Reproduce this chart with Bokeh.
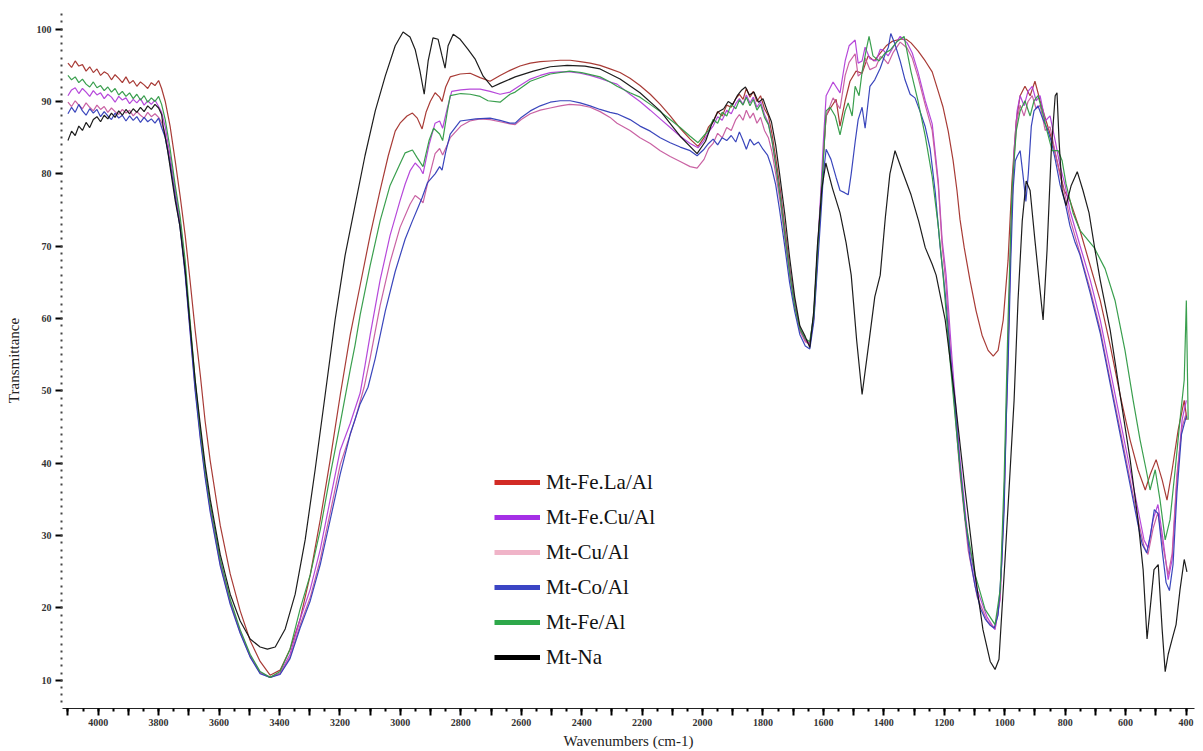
from bokeh.plotting import figure
from bokeh.models import Range1d, FixedTicker, Legend, LegendItem
from bokeh.embed import file_html
from bokeh.resources import INLINE

# FTIR spectra: (wavenumber cm-1, transmittance %)
mt_fe_la_al = [
    (4100, 95.3), (4088, 94.7), (4076, 95.6), (4064, 94.9), (4052, 95.1), (4040, 94.2), (4028, 94.8),
    (4016, 94.0), (4004, 94.5), (3992, 93.6), (3980, 94.1), (3968, 93.8), (3956, 93.0), (3944, 93.7),
    (3932, 93.2), (3920, 92.6), (3908, 93.4), (3896, 92.5), (3884, 92.9), (3872, 92.1), (3860, 92.7),
    (3848, 92.3), (3836, 91.8), (3824, 92.6), (3812, 92.2), (3800, 92.9), (3790, 91.8),
    (3778, 90.0), (3762, 86.6), (3745, 81.8), (3729, 77.0), (3712, 71.5), (3696, 65.3),
    (3679, 58.4), (3662, 52.2), (3646, 45.8), (3629, 40.3), (3596, 31.4), (3563, 24.7), (3530, 19.6),
    (3497, 15.5), (3464, 12.6), (3431, 10.7), (3398, 11.4), (3365, 14.3), (3332, 18.4), (3298, 24.6),
    (3265, 32.2), (3232, 40.5), (3199, 49.4), (3166, 57.7), (3133, 64.6), (3100, 71.5), (3067, 77.7),
    (3040, 82.5), (3017, 85.9), (3001, 87.0), (2978, 88.0), (2960, 88.4), (2944, 87.7), (2928, 86.2),
    (2915, 88.5), (2901, 90.0), (2885, 91.2), (2870, 90.6), (2862, 90.0), (2850, 92.0), (2835, 93.4),
    (2802, 93.8), (2769, 93.9), (2736, 93.3), (2703, 92.8), (2670, 93.6), (2637, 94.3), (2604, 94.9),
    (2570, 95.3), (2537, 95.5), (2504, 95.6), (2471, 95.7), (2438, 95.7), (2405, 95.5), (2372, 95.3),
    (2339, 95.0), (2306, 94.5), (2273, 94.0), (2240, 93.2), (2207, 92.2), (2173, 91.0), (2140, 89.6),
    (2107, 88.0), (2074, 86.3), (2041, 84.8), (2015, 83.8), (1995, 85.0), (1980, 86.5), (1965, 87.2),
    (1950, 88.6), (1935, 88.0), (1920, 89.5), (1905, 89.2), (1890, 90.4), (1878, 91.0), (1866, 90.3),
    (1855, 91.8), (1843, 90.6), (1832, 91.4), (1820, 90.0), (1808, 90.8), (1795, 89.0), (1782, 88.0),
    (1770, 85.5), (1757, 82.0), (1742, 77.5), (1726, 72.0), (1710, 66.5), (1694, 62.0), (1677, 58.5),
    (1660, 57.0), (1645, 56.5), (1632, 60.0), (1620, 68.5), (1608, 77.0), (1597, 84.6), (1591, 88.0),
    (1578, 89.0), (1558, 90.3), (1545, 86.6), (1528, 90.1), (1512, 92.8), (1492, 94.2), (1472, 93.9),
    (1452, 96.3), (1432, 95.6), (1412, 96.7), (1392, 97.7), (1373, 98.3), (1346, 98.6), (1326, 98.6),
    (1310, 98.1), (1287, 97.0), (1263, 95.6), (1240, 94.1), (1220, 91.4), (1204, 89.2), (1187, 85.9),
    (1171, 81.9), (1158, 77.7), (1148, 73.7), (1134, 69.8), (1115, 65.3), (1095, 61.1), (1075, 57.7),
    (1055, 55.6), (1038, 54.8), (1022, 55.6), (1005, 59.8), (989, 68.0), (976, 79.0), (962, 87.3),
    (949, 90.8), (933, 92.1), (916, 90.8), (900, 92.8), (883, 90.1), (863, 87.3), (843, 84.6),
    (823, 81.1), (803, 77.7), (784, 76.3), (751, 72.2), (717, 67.3), (684, 62.5), (651, 56.3),
    (618, 49.4), (585, 43.2), (559, 39.1), (535, 36.3), (519, 38.4), (499, 40.5), (479, 37.7),
    (463, 34.9), (446, 39.1), (426, 44.6), (406, 48.7), (397, 46.0),
]

mt_fe_cu_al = [
    (4100, 90.8), (4088, 91.6), (4076, 91.9), (4064, 91.1), (4052, 91.8), (4040, 91.3), (4028, 90.7),
    (4016, 91.5), (4004, 90.9), (3992, 91.2), (3980, 90.4), (3968, 91.0), (3956, 90.6), (3944, 89.9),
    (3932, 90.7), (3920, 90.2), (3908, 90.5), (3896, 89.7), (3884, 90.3), (3872, 89.8), (3860, 90.4),
    (3848, 89.5), (3836, 90.1), (3824, 89.6), (3812, 90.2), (3800, 89.3), (3790, 88.5),
    (3778, 86.5), (3762, 82.5), (3745, 77.8), (3729, 73.5), (3712, 67.0), (3696, 59.0),
    (3679, 50.8), (3662, 44.0), (3646, 38.6), (3629, 33.8), (3596, 26.3), (3563, 20.9), (3530, 16.8),
    (3497, 13.4), (3464, 11.1), (3431, 10.4), (3398, 11.0), (3365, 13.6), (3332, 18.4), (3298, 22.6),
    (3265, 28.1), (3232, 35.0), (3199, 41.8), (3166, 45.5), (3133, 49.7), (3117, 53.5), (3100, 57.7),
    (3067, 65.3), (3034, 71.5), (3001, 76.3), (2984, 78.6), (2968, 80.4), (2951, 81.5), (2935, 80.8),
    (2925, 80.0), (2905, 84.0), (2885, 87.0), (2870, 87.3), (2860, 86.3), (2845, 89.0), (2830, 91.4),
    (2800, 91.6), (2770, 91.7), (2736, 91.7), (2703, 91.4), (2670, 91.0), (2637, 91.3), (2604, 92.2),
    (2570, 93.1), (2537, 93.6), (2504, 94.0), (2471, 94.1), (2438, 94.1), (2405, 93.9), (2372, 93.6),
    (2339, 93.2), (2306, 92.7), (2283, 92.4), (2240, 91.0), (2207, 90.0), (2173, 88.8), (2140, 87.6),
    (2107, 86.4), (2074, 85.2), (2041, 84.2), (2015, 83.6), (1995, 84.6), (1980, 85.8), (1965, 86.6),
    (1950, 87.9), (1935, 87.4), (1920, 88.8), (1905, 88.3), (1890, 89.7), (1878, 90.4), (1866, 89.6),
    (1855, 90.9), (1843, 89.8), (1832, 90.6), (1820, 89.2), (1808, 90.0), (1795, 88.2), (1782, 87.0),
    (1770, 84.6), (1757, 81.0), (1742, 76.8), (1726, 71.2), (1710, 66.0), (1694, 61.8), (1677, 58.4),
    (1660, 57.0), (1645, 56.6), (1632, 60.4), (1620, 69.0), (1608, 78.0), (1600, 84.6), (1591, 90.8),
    (1568, 92.7), (1545, 91.2), (1528, 95.6), (1515, 97.7), (1495, 98.5), (1485, 95.3), (1472, 95.6),
    (1462, 97.5), (1446, 95.9), (1426, 95.6), (1412, 97.2), (1402, 97.1), (1386, 96.3), (1369, 97.5),
    (1346, 99.0), (1323, 98.1), (1306, 96.7), (1287, 94.1), (1263, 90.1), (1240, 86.9), (1220, 79.0),
    (1207, 70.8), (1194, 66.0), (1174, 54.2), (1148, 40.5), (1121, 29.4), (1091, 22.5), (1058, 18.7),
    (1032, 17.0), (1015, 21.2), (1002, 34.9), (989, 55.6), (979, 72.2), (969, 83.2), (959, 88.7),
    (949, 90.8), (936, 89.4), (923, 91.4), (909, 92.1), (896, 90.1), (883, 90.8), (866, 87.3),
    (850, 88.0), (833, 84.6), (817, 81.1), (800, 78.4), (784, 74.9), (751, 70.1), (717, 65.3),
    (684, 59.8), (651, 52.9), (618, 46.0), (585, 39.1), (559, 33.6), (539, 29.4), (526, 28.3),
    (509, 32.2), (493, 34.3), (476, 29.4), (459, 23.9), (446, 26.7), (430, 37.7), (413, 46.0),
    (399, 48.7),
]

mt_cu_al = [
    (4100, 89.9), (4088, 89.3), (4076, 90.1), (4064, 89.5), (4052, 89.0), (4040, 89.8), (4028, 89.2),
    (4016, 88.7), (4004, 89.5), (3992, 88.9), (3980, 89.3), (3968, 88.5), (3956, 89.1), (3944, 88.6),
    (3932, 88.2), (3920, 88.9), (3908, 88.4), (3896, 88.8), (3884, 88.0), (3872, 88.6), (3860, 88.1),
    (3848, 87.7), (3836, 88.5), (3824, 87.9), (3812, 88.3), (3800, 87.8), (3790, 87.1),
    (3778, 85.5), (3762, 81.8), (3745, 77.2), (3729, 73.0), (3712, 66.4), (3696, 58.6),
    (3679, 50.4), (3662, 43.7), (3646, 38.3), (3629, 33.5), (3596, 26.0), (3563, 20.7), (3530, 16.6),
    (3497, 13.3), (3464, 11.0), (3431, 10.4), (3398, 10.9), (3365, 13.2), (3332, 17.6), (3298, 21.5),
    (3265, 26.7), (3232, 33.2), (3199, 39.8), (3150, 46.0), (3120, 50.5), (3100, 54.5), (3067, 61.8),
    (3034, 67.8), (3001, 72.6), (2968, 75.8), (2951, 77.0), (2935, 76.5), (2925, 76.0), (2905, 79.5),
    (2885, 82.8), (2870, 83.5), (2860, 82.6), (2845, 84.0), (2835, 85.0), (2800, 86.6), (2770, 87.3),
    (2736, 87.6), (2703, 87.5), (2670, 87.2), (2637, 86.9), (2620, 86.8), (2600, 87.5), (2570, 88.3),
    (2537, 88.8), (2504, 89.1), (2471, 89.4), (2440, 89.6), (2405, 89.5), (2372, 89.2), (2339, 88.6),
    (2306, 87.8), (2283, 87.0), (2240, 86.0), (2207, 85.0), (2173, 84.2), (2140, 83.2), (2107, 82.4),
    (2074, 81.7), (2041, 81.0), (2018, 80.8), (1995, 82.0), (1980, 83.5), (1965, 84.2), (1950, 85.6),
    (1935, 85.0), (1920, 86.4), (1905, 86.0), (1890, 87.5), (1878, 88.2), (1866, 87.4), (1855, 88.8),
    (1843, 87.7), (1832, 88.4), (1820, 87.0), (1808, 87.8), (1795, 86.0), (1782, 85.0), (1770, 83.0),
    (1757, 79.8), (1742, 75.8), (1726, 70.6), (1710, 65.5), (1694, 61.5), (1677, 58.2), (1660, 56.8),
    (1645, 56.4), (1632, 60.0), (1620, 68.0), (1608, 76.0), (1600, 82.5), (1591, 88.0), (1568, 90.5),
    (1545, 89.0), (1528, 93.6), (1515, 95.4), (1495, 96.6), (1485, 93.5), (1472, 94.0), (1462, 96.0),
    (1446, 94.4), (1426, 94.8), (1412, 96.2), (1402, 96.0), (1386, 95.2), (1369, 96.8), (1346, 98.2),
    (1323, 97.4), (1306, 96.0), (1287, 93.4), (1263, 89.5), (1240, 86.0), (1220, 78.5), (1207, 70.0),
    (1194, 64.5), (1174, 52.0), (1148, 38.5), (1121, 28.0), (1091, 21.5), (1058, 18.2), (1032, 17.2),
    (1015, 21.5), (1002, 35.5), (989, 56.0), (979, 72.5), (969, 82.5), (959, 87.5), (949, 89.5),
    (936, 88.0), (923, 90.0), (909, 90.8), (896, 89.0), (883, 89.5), (866, 86.0), (850, 86.5),
    (833, 83.0), (817, 79.8), (800, 77.0), (784, 73.8), (751, 69.0), (717, 64.0), (684, 58.5),
    (651, 51.5), (618, 44.6), (585, 37.7), (559, 32.2), (539, 28.5), (526, 27.4), (509, 31.0),
    (493, 33.2), (476, 28.5), (459, 24.6), (446, 27.5), (430, 38.5), (413, 45.0), (399, 47.0),
]

mt_co_al = [
    (4100, 88.3), (4088, 89.2), (4076, 88.5), (4064, 89.6), (4052, 88.7), (4040, 88.1), (4028, 89.0),
    (4016, 88.4), (4004, 88.9), (3992, 87.9), (3980, 88.6), (3968, 88.0), (3956, 87.5), (3944, 88.4),
    (3932, 87.7), (3920, 88.1), (3908, 87.3), (3896, 88.0), (3884, 87.4), (3872, 87.9), (3860, 87.1),
    (3848, 87.8), (3836, 87.2), (3824, 87.6), (3812, 87.0), (3800, 87.7), (3790, 86.4),
    (3778, 85.0), (3762, 81.4), (3745, 76.8), (3729, 72.6), (3712, 66.0), (3696, 58.2),
    (3679, 50.0), (3662, 43.4), (3646, 38.0), (3629, 33.2), (3596, 25.8), (3563, 20.5), (3530, 16.5),
    (3497, 13.2), (3464, 10.9), (3431, 10.4), (3398, 10.8), (3365, 13.0), (3332, 17.2), (3298, 21.0),
    (3265, 26.0), (3232, 32.2), (3199, 38.5), (3166, 44.0), (3133, 48.2), (3107, 50.5), (3083, 54.5),
    (3050, 61.0), (3017, 66.5), (2984, 71.0), (2960, 73.5), (2940, 75.5), (2928, 76.7), (2910, 78.8),
    (2885, 80.0), (2870, 81.0), (2862, 80.5), (2850, 83.0), (2835, 85.5), (2802, 87.3), (2750, 87.6),
    (2703, 87.7), (2670, 87.4), (2637, 87.0), (2620, 87.0), (2600, 87.8), (2570, 88.7), (2537, 89.4),
    (2504, 89.9), (2471, 90.1), (2438, 90.1), (2405, 89.8), (2372, 89.4), (2339, 88.9), (2306, 88.5),
    (2283, 88.3), (2240, 87.5), (2207, 86.6), (2173, 85.9), (2140, 85.0), (2107, 84.3), (2074, 83.7),
    (2041, 83.2), (2018, 82.5), (1995, 83.4), (1980, 84.2), (1965, 84.8), (1950, 84.0), (1935, 85.0),
    (1920, 84.6), (1905, 85.3), (1890, 84.4), (1878, 85.8), (1866, 84.6), (1855, 83.4), (1843, 84.8),
    (1830, 84.0), (1815, 84.4), (1800, 83.4), (1785, 82.6), (1772, 81.0), (1758, 78.5), (1745, 75.0),
    (1728, 70.0), (1712, 65.0), (1695, 61.0), (1678, 57.8), (1660, 56.2), (1645, 55.8), (1632, 59.5),
    (1620, 67.0), (1608, 74.5), (1600, 80.0), (1591, 83.4), (1575, 82.0), (1558, 79.5), (1545, 77.7),
    (1530, 77.4), (1518, 77.1), (1508, 80.0), (1495, 84.4), (1485, 87.5), (1472, 89.2), (1462, 86.3),
    (1446, 92.1), (1430, 93.0), (1412, 94.6), (1396, 96.5), (1385, 97.5), (1377, 99.4), (1363, 97.9),
    (1346, 95.6), (1330, 93.0), (1313, 91.0), (1297, 90.5), (1280, 88.6), (1263, 86.5), (1247, 83.5),
    (1230, 77.5), (1214, 70.0), (1197, 63.5), (1181, 55.5), (1164, 47.5), (1148, 39.5), (1131, 32.5),
    (1115, 27.0), (1098, 23.0), (1081, 20.0), (1065, 18.5), (1048, 17.6), (1035, 17.2), (1022, 19.0),
    (1010, 26.0), (1002, 33.5), (995, 46.0), (989, 53.5), (980, 68.0), (972, 78.0), (965, 81.8),
    (958, 82.5), (949, 83.2), (940, 80.0), (930, 76.2), (922, 80.0), (912, 86.6), (903, 88.7),
    (890, 89.4), (876, 87.8), (860, 86.3), (846, 84.5), (833, 82.0), (817, 78.5), (800, 76.0),
    (784, 72.8), (767, 70.5), (751, 68.8), (717, 63.5), (684, 58.0), (651, 51.0), (618, 44.0),
    (585, 37.0), (559, 31.5), (545, 28.8), (530, 27.6), (518, 30.0), (505, 33.6), (492, 33.0),
    (479, 28.0), (466, 23.5), (455, 22.4), (443, 26.0), (430, 36.0), (415, 44.0), (399, 46.5),
]

mt_fe_al = [
    (4100, 93.6), (4088, 93.0), (4076, 93.4), (4064, 92.6), (4052, 93.1), (4040, 92.4), (4028, 92.0),
    (4016, 92.7), (4004, 91.9), (3992, 92.2), (3980, 91.5), (3968, 92.0), (3956, 91.3), (3944, 91.8),
    (3932, 90.9), (3920, 91.4), (3908, 90.7), (3896, 91.2), (3884, 90.4), (3872, 91.0), (3860, 90.2),
    (3848, 90.8), (3836, 89.9), (3824, 90.5), (3812, 90.0), (3800, 90.7), (3790, 89.6),
    (3778, 87.5), (3762, 83.5), (3745, 78.4), (3729, 74.2), (3712, 68.0), (3696, 59.8),
    (3679, 51.5), (3662, 44.6), (3646, 39.1), (3629, 34.3), (3596, 26.7), (3563, 21.2), (3530, 17.0),
    (3497, 13.6), (3464, 11.2), (3431, 10.4), (3398, 11.2), (3365, 14.3), (3332, 19.8), (3298, 24.6),
    (3265, 30.8), (3232, 38.4), (3199, 45.5), (3166, 52.9), (3150, 56.3), (3133, 60.5), (3100, 67.3),
    (3067, 73.5), (3034, 78.4), (3001, 81.4), (2984, 82.9), (2960, 83.3), (2944, 82.2), (2925, 81.0),
    (2905, 84.6), (2890, 86.3), (2870, 85.5), (2860, 84.6), (2845, 88.5), (2835, 90.8), (2800, 91.1),
    (2769, 91.0), (2736, 90.7), (2710, 90.1), (2670, 89.9), (2637, 91.0), (2620, 91.3), (2570, 92.8),
    (2504, 93.8), (2440, 94.2), (2400, 94.0), (2339, 93.4), (2306, 92.7), (2283, 92.1), (2240, 91.2),
    (2207, 90.6), (2173, 89.6), (2140, 88.6), (2107, 87.5), (2074, 86.4), (2041, 85.2), (2015, 84.3),
    (1995, 85.3), (1980, 86.0), (1965, 87.5), (1950, 87.0), (1935, 88.5), (1920, 88.0), (1905, 89.6),
    (1890, 89.0), (1878, 90.2), (1866, 89.5), (1855, 90.6), (1843, 89.4), (1832, 90.3), (1820, 88.8),
    (1808, 89.6), (1795, 87.8), (1782, 86.8), (1770, 84.5), (1757, 81.0), (1742, 76.5), (1726, 71.0),
    (1710, 65.8), (1694, 61.5), (1677, 58.5), (1660, 57.2), (1645, 56.8), (1632, 60.5), (1620, 69.0),
    (1608, 76.5), (1600, 82.0), (1591, 88.7), (1578, 89.2), (1561, 88.0), (1545, 85.4), (1528, 88.7),
    (1518, 89.8), (1505, 88.0), (1495, 92.1), (1482, 90.8), (1472, 94.1), (1459, 97.0), (1449, 99.0),
    (1436, 96.3), (1416, 95.6), (1396, 96.7), (1379, 97.1), (1356, 98.3), (1333, 99.0), (1310, 94.1),
    (1287, 90.1), (1263, 85.2), (1240, 79.6), (1220, 72.8), (1204, 66.0), (1181, 54.2), (1154, 41.8),
    (1131, 32.2), (1098, 24.6), (1065, 19.8), (1032, 17.7), (1015, 22.5), (1002, 37.7), (989, 59.8),
    (976, 77.7), (962, 85.9), (949, 88.7), (933, 90.1), (916, 88.0), (903, 90.1), (890, 90.8),
    (876, 88.7), (860, 85.9), (843, 83.2), (823, 83.2), (810, 81.8), (797, 78.6), (774, 74.6),
    (751, 72.2), (704, 69.8), (668, 66.9), (635, 62.5), (602, 55.6), (575, 48.7), (552, 43.2),
    (532, 39.1), (519, 36.3), (502, 39.1), (486, 34.9), (469, 29.4), (453, 32.2), (436, 39.1),
    (420, 46.0), (406, 51.5), (399, 62.5), (393, 46.0),
]

mt_na = [
    (4100, 84.6), (4088, 85.9), (4076, 85.3), (4064, 86.6), (4052, 86.0), (4040, 87.1), (4028, 86.4),
    (4016, 87.5), (4004, 87.9), (3992, 87.2), (3980, 88.1), (3968, 87.6), (3956, 88.4), (3944, 87.8),
    (3932, 88.7), (3920, 88.1), (3908, 88.9), (3896, 88.3), (3884, 89.0), (3872, 88.5), (3860, 89.2),
    (3848, 88.6), (3836, 89.4), (3824, 88.9), (3812, 89.6), (3800, 89.1), (3790, 88.2),
    (3785, 86.6), (3770, 83.2), (3760, 80.4), (3745, 76.3), (3730, 72.9), (3712, 66.6),
    (3696, 59.1), (3679, 51.5), (3662, 45.3), (3646, 39.8), (3629, 35.0), (3596, 27.4), (3563, 21.9),
    (3530, 18.2), (3497, 15.7), (3464, 14.6), (3440, 14.3), (3414, 14.6), (3381, 17.1), (3348, 21.9),
    (3315, 29.4), (3282, 39.1), (3249, 49.4), (3216, 59.8), (3183, 68.7), (3150, 75.6), (3117, 82.5),
    (3083, 88.7), (3050, 93.5), (3017, 97.7), (2991, 99.6), (2968, 98.9), (2951, 97.2), (2935, 94.2),
    (2921, 91.0), (2908, 95.6), (2892, 98.8), (2875, 98.6), (2862, 96.3), (2852, 94.6), (2842, 97.7),
    (2825, 99.3), (2802, 98.6), (2776, 97.2), (2753, 95.9), (2726, 93.5), (2696, 92.0), (2670, 92.5),
    (2620, 93.4), (2560, 94.2), (2504, 94.8), (2448, 95.0), (2389, 94.9), (2339, 94.5), (2273, 93.1),
    (2207, 91.2), (2140, 88.7), (2074, 85.2), (2018, 82.8), (1990, 84.5), (1970, 86.8), (1950, 88.5),
    (1930, 89.0), (1915, 90.0), (1900, 89.6), (1885, 90.8), (1870, 91.6), (1858, 92.0), (1845, 90.9),
    (1830, 91.3), (1815, 89.9), (1800, 90.4), (1785, 88.6), (1772, 87.2), (1758, 84.0), (1745, 80.0),
    (1728, 74.5), (1712, 68.5), (1695, 63.0), (1678, 59.0), (1660, 57.5), (1645, 56.0), (1632, 61.0),
    (1620, 70.0), (1605, 78.0), (1592, 81.5), (1570, 78.0), (1545, 74.6), (1525, 70.5), (1508, 66.0),
    (1490, 57.0), (1472, 49.5), (1450, 56.5), (1430, 63.0), (1412, 66.0), (1395, 74.0), (1380, 80.0),
    (1363, 83.2), (1340, 80.5), (1310, 77.1), (1285, 73.5), (1263, 69.8), (1240, 67.5), (1227, 66.0),
    (1197, 59.8), (1164, 48.7), (1131, 36.3), (1098, 24.6), (1072, 17.0), (1048, 12.6), (1032, 11.5),
    (1019, 12.9), (999, 26.7), (982, 39.1), (969, 48.7), (956, 62.5), (942, 73.5), (929, 79.0),
    (916, 77.7), (900, 70.8), (883, 63.9), (873, 59.8), (860, 69.4), (846, 83.2), (833, 90.8),
    (827, 91.2), (820, 84.4), (810, 77.7), (797, 75.6), (780, 78.4), (760, 80.3), (741, 77.7),
    (721, 74.6), (701, 69.4), (684, 65.3), (651, 58.4), (618, 49.4), (585, 40.5), (559, 32.2),
    (542, 25.3), (529, 15.7), (519, 19.8), (506, 25.3), (492, 26.0), (479, 17.0), (469, 11.2),
    (459, 13.6), (446, 15.7), (433, 17.7), (420, 22.5), (406, 26.7), (397, 25.0),
]

series_names = ["Mt-Fe.La/Al", "Mt-Fe.Cu/Al", "Mt-Cu/Al", "Mt-Co/Al", "Mt-Fe/Al", "Mt-Na"]
series_data = [mt_fe_la_al, mt_fe_cu_al, mt_cu_al, mt_co_al, mt_fe_al, mt_na]
curve_colors = ["#a3302b", "#b23ed8", "#c65a9e", "#2f3cb8", "#2f9a45", "#111111"]
legend_colors = ["#d22b25", "#a52fe6", "#f0b4c8", "#3b45c4", "#2ea84a", "#000000"]

x_major = list(range(400, 4101, 100))
x_minor = list(range(400, 4101, 50))
y_major = list(range(10, 101, 10))
y_minor = list(range(7, 103))

SERIF = "Liberation Serif"

p = figure(
    width=1203, height=751,
    x_range=Range1d(4118, 372), y_range=Range1d(6.1, 102.3),
    output_backend="svg", toolbar_location=None,
    min_border_left=62, min_border_right=9, min_border_top=12, min_border_bottom=42,
)
p.outline_line_color = None
p.xgrid.visible = False
p.ygrid.visible = False
p.background_fill_color = "white"
p.border_fill_color = "white"

# x axis: labels on every 200 cm-1, ticks every 100 and 50
xa = p.xaxis[0]
xa.ticker = FixedTicker(ticks=x_major, minor_ticks=x_minor)
xa.major_label_overrides = {v: ("" if v % 200 else str(v)) for v in x_major}
xa.axis_label = "Wavenumbers (cm-1)"
xa.axis_label_text_font = SERIF
xa.axis_label_text_font_size = "15px"
xa.axis_label_text_font_style = "normal"
xa.axis_label_text_color = "#222222"
xa.axis_label_standoff = 4
xa.major_label_text_font = SERIF
xa.major_label_text_font_size = "10px"
xa.major_label_text_font_style = "bold"
xa.major_label_text_color = "#333333"
xa.major_label_standoff = 3
xa.axis_line_color = "#222222"
xa.major_tick_in = 0
xa.major_tick_out = 7
xa.major_tick_line_width = 2
xa.minor_tick_in = 0
xa.minor_tick_out = 3
xa.minor_tick_line_width = 2

# y axis: dotted column of unit ticks, labelled every 10 %
ya = p.yaxis[0]
ya.ticker = FixedTicker(ticks=y_major, minor_ticks=y_minor)
ya.axis_label = "Transmittance"
ya.axis_label_text_font = SERIF
ya.axis_label_text_font_size = "15px"
ya.axis_label_text_font_style = "normal"
ya.axis_label_text_color = "#222222"
ya.axis_label_standoff = 12
ya.major_label_text_font = SERIF
ya.major_label_text_font_size = "10px"
ya.major_label_text_font_style = "bold"
ya.major_label_text_color = "#333333"
ya.major_label_standoff = 4
ya.axis_line_color = None
ya.major_tick_in = 0
ya.major_tick_out = 7
ya.major_tick_line_width = 2
ya.minor_tick_in = 0
ya.minor_tick_out = 2
ya.minor_tick_line_width = 2
ya.minor_tick_line_color = "#444444"

for data, color in zip(series_data, curve_colors):
    wn = [pt[0] for pt in data]
    tr = [pt[1] for pt in data]
    p.line(wn, tr, line_color=color, line_width=1.2, line_alpha=0.95)

# thick swatches for the key (no visible data of their own)
nan = float("nan")
items = []
for name, color in zip(series_names, legend_colors):
    r = p.line(x=[nan, nan], y=[nan, nan], line_color=color, line_width=5)
    items.append(LegendItem(label=name, renderers=[r]))

legend = Legend(
    items=items, location=(432, 36),
    padding=0, margin=0, spacing=5,
    glyph_width=46, glyph_height=30, label_height=30, label_standoff=6,
    label_text_font=SERIF, label_text_font_size="21px", label_text_color="#111111",
    border_line_alpha=0, background_fill_alpha=0,
)
p.add_layout(legend)

open("out.html", "w").write(file_html(p, INLINE))
